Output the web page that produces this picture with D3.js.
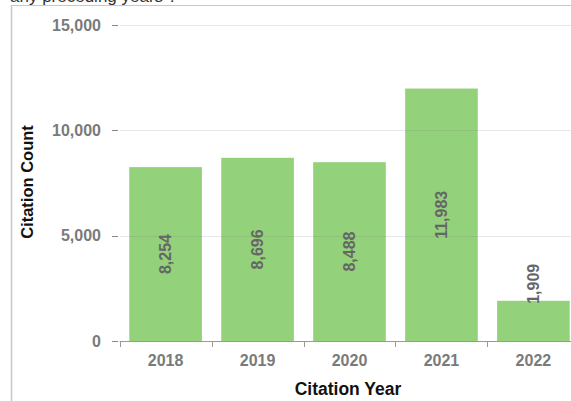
<!DOCTYPE html>
<html>
<head>
<meta charset="utf-8">
<script src="https://cdn.jsdelivr.net/npm/d3@7"></script>
<style>
  html, body { margin: 0; padding: 0; background: #fff; }
  svg { display: block; font-family: Arial, "Liberation Sans", sans-serif; }
</style>
</head>
<body>
<svg id="chart" width="571" height="401"></svg>
<script>
// Citation counts per year
const years = ["2018", "2019", "2020", "2021", "2022"];
const citations = [8254, 8696, 8488, 11983, 1909];
const yTicks = [0, 5000, 10000, 15000];

const data = years.map((y, i) => ({ year: y, value: citations[i] }));

const svg = d3.select("#chart");
const W = 571, H = 401;

// Panel frame and the tail of the heading above it
svg.append("text")
  .attr("x", 10).attr("y", 1.5)
  .attr("font-size", 17).attr("fill", "#333")
  .text("any preceding years ?");
svg.append("line").attr("x1", 11).attr("x2", W).attr("y1", 5.5).attr("y2", 5.5)
  .attr("stroke", "#c8c8c8").attr("stroke-width", 1);
svg.append("line").attr("x1", 11.5).attr("x2", 11.5).attr("y1", 5).attr("y2", H)
  .attr("stroke", "#c8c8c8").attr("stroke-width", 1.5);

const x = d3.scaleBand().domain(years).range([121, 578]).paddingInner(0.21).paddingOuter(0.09);
const y = d3.scaleLinear().domain([0, 15000]).range([341, 25]);

// Bars
svg.append("g").selectAll("rect").data(data).join("rect")
  .attr("x", d => x(d.year))
  .attr("width", x.bandwidth())
  .attr("y", d => y(d.value))
  .attr("height", d => y(0) - y(d.value))
  .attr("fill", "#93d27b");

// Gridlines (faint, drawn over the bars)
svg.append("g").selectAll("line").data(yTicks.filter(t => t > 0)).join("line")
  .attr("x1", 120).attr("x2", W)
  .attr("y1", d => Math.round(y(d)) + 0.5).attr("y2", d => Math.round(y(d)) + 0.5)
  .attr("stroke", "rgba(120,120,120,0.18)").attr("stroke-width", 1);

// Y axis: tick dashes and labels
const yAxis = svg.append("g");
yAxis.selectAll("line").data(yTicks).join("line")
  .attr("x1", 112).attr("x2", 118)
  .attr("y1", d => Math.round(y(d)) + 0.5).attr("y2", d => Math.round(y(d)) + 0.5)
  .attr("stroke", "#888").attr("stroke-width", 1);
yAxis.selectAll("text").data(yTicks).join("text")
  .attr("x", 101).attr("y", d => y(d))
  .attr("dy", "0.36em")
  .attr("text-anchor", "end")
  .attr("font-size", 16).attr("font-weight", "bold")
  .attr("fill", "#7a7a7a")
  .text(d => d3.format(",")(d));

// X axis baseline, boundary ticks and year labels
const gapHalf = x.step() * x.paddingInner() / 2;
const bounds = years.map(d => x(d) - gapHalf).concat([x(years[years.length - 1]) + x.bandwidth() + gapHalf]);
svg.append("line").attr("x1", bounds[0]).attr("x2", W)
  .attr("y1", 341.5).attr("y2", 341.5).attr("stroke", "#999").attr("stroke-width", 1);
svg.append("g").selectAll("line").data(bounds).join("line")
  .attr("x1", d => Math.round(d) + 0.5).attr("x2", d => Math.round(d) + 0.5)
  .attr("y1", 341).attr("y2", 347)
  .attr("stroke", "#999").attr("stroke-width", 1);
svg.append("g").selectAll("text").data(years).join("text")
  .attr("x", d => x(d) + x.bandwidth() / 2).attr("y", 366)
  .attr("text-anchor", "middle")
  .attr("font-size", 16).attr("font-weight", "bold")
  .attr("fill", "#7a7a7a")
  .text(d => d);

// Value labels, rotated; placed above a bar when it is too short
const labelFmt = d3.format(",");
svg.append("g").selectAll("text").data(data).join("text")
  .each(function (d) {
    const cx = x(d.year) + x.bandwidth() / 2;
    const barH = y(0) - y(d.value);
    const t = d3.select(this);
    if (barH > 60) {
      t.attr("transform", `translate(${cx},${(y(0) + y(d.value)) / 2}) rotate(-90)`)
        .attr("text-anchor", "middle");
    } else {
      t.attr("transform", `translate(${cx},${y(d.value) + 3}) rotate(-90)`)
        .attr("text-anchor", "start");
    }
  })
  .attr("dy", "0.36em")
  .attr("font-size", 16).attr("font-weight", "bold")
  .attr("fill", "#666")
  .text(d => labelFmt(d.value));

// Axis titles
svg.append("text")
  .attr("transform", "translate(33,182) rotate(-90)")
  .attr("text-anchor", "middle")
  .attr("font-size", 16.5).attr("font-weight", "bold").attr("fill", "#111")
  .text("Citation Count");
svg.append("text")
  .attr("x", 348).attr("y", 395)
  .attr("text-anchor", "middle")
  .attr("font-size", 17.5).attr("font-weight", "bold").attr("fill", "#111")
  .text("Citation Year");
</script>
</body>
</html>
